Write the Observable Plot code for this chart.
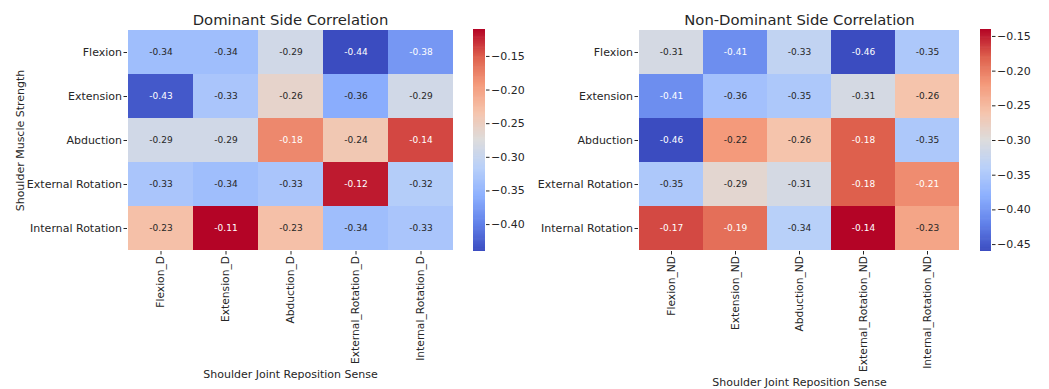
<!DOCTYPE html>
<html><head><meta charset="utf-8">
<script src="https://cdn.jsdelivr.net/npm/d3@7"></script>
<script src="https://cdn.jsdelivr.net/npm/@observablehq/plot@0.6"></script>
<style>
body{margin:0;background:#fff;}
#chart{position:relative;width:1049px;height:389px;background:#fff;font-family:"DejaVu Sans",sans-serif;}
#chart svg{position:absolute;max-width:none;}
</style></head><body><div id="chart"></div>
<script>
const rows = ["Flexion", "Extension", "Abduction", "External Rotation", "Internal Rotation"];
const colsD = ["Flexion_D", "Extension_D", "Abduction_D", "External_Rotation_D", "Internal_Rotation_D"];
const colsND = ["Flexion_ND", "Extension_ND", "Abduction_ND", "External_Rotation_ND", "Internal_Rotation_ND"];
const valuesD = [
  [-0.34, -0.34, -0.29, -0.44, -0.38],
  [-0.43, -0.33, -0.26, -0.36, -0.29],
  [-0.29, -0.29, -0.18, -0.24, -0.14],
  [-0.33, -0.34, -0.33, -0.12, -0.32],
  [-0.23, -0.11, -0.23, -0.34, -0.33]
];
const valuesND = [
  [-0.31, -0.41, -0.33, -0.46, -0.35],
  [-0.41, -0.36, -0.35, -0.31, -0.26],
  [-0.46, -0.22, -0.26, -0.18, -0.35],
  [-0.35, -0.29, -0.31, -0.18, -0.21],
  [-0.17, -0.19, -0.34, -0.14, -0.23]
];
const ticksD = [-0.40, -0.35, -0.30, -0.25, -0.20, -0.15];
const ticksND = [-0.45, -0.40, -0.35, -0.30, -0.25, -0.20, -0.15];
const titleD = "Dominant Side Correlation";
const titleND = "Non-Dominant Side Correlation";
const yTitle = "Shoulder Muscle Strength";
const xTitle = "Shoulder Joint Reposition Sense";

const coolwarm = ["#3b4cc0", "#6282ea", "#8db0fe", "#b8d0f9", "#dddcdc", "#f5c4ac", "#f49a7b", "#de604d", "#b40426"];
const interp = d3.piecewise(d3.interpolateRgb, coolwarm);
const TXT = "#262626";
const FONT = "DejaVu Sans, sans-serif";

function lum(c) {
  const o = d3.rgb(c);
  const f = v => { v /= 255; return v <= 0.03928 ? v / 12.92 : Math.pow((v + 0.055) / 1.055, 2.4); };
  return 0.2126 * f(o.r) + 0.7152 * f(o.g) + 0.0722 * f(o.b);
}

const container = document.getElementById("chart");
const H = 389, MT = 29, MB = 138;

function heatmap(cols, values, title, left, width, ml, mr, xTitleDy, showY) {
  const data = rows.flatMap((r, i) => cols.map((c, j) => ({row: r, col: c, value: values[i][j]})));
  const flat = values.flat();
  const lo = d3.min(flat), hi = d3.max(flat);
  const colorOf = v => interp((v - lo) / (hi - lo));
  const marks = [
    Plot.cell(data, {x: "col", y: "row", fill: "value", inset: 0}),
    Plot.text(data, {x: "col", y: "row", text: d => d.value.toFixed(2), fontSize: 9,
      fill: d => lum(colorOf(d.value)) > 0.408 ? TXT : "white"}),
    Plot.axisX({tickRotate: -90, tickSize: 3.5, tickPadding: 1, fontSize: 10.7, label: null, stroke: TXT, fill: TXT}),
    Plot.axisY({tickSize: 3.5, tickPadding: 2, fontSize: 11, label: null, stroke: TXT, fill: TXT}),
    Plot.text([title], {frameAnchor: "top", lineAnchor: "middle", dy: -9, fontSize: 14.8, fill: TXT}),
    Plot.text([xTitle], {frameAnchor: "bottom", lineAnchor: "middle", dy: xTitleDy, fontSize: 11, fill: TXT})
  ];
  if (showY) marks.push(Plot.text([yTitle], {frameAnchor: "left", lineAnchor: "middle", dx: -107, rotate: -90, textAnchor: "middle", fontSize: 11, fill: TXT}));
  const svg = Plot.plot({
    width, height: H, marginTop: MT, marginBottom: MB, marginLeft: ml, marginRight: mr,
    x: {domain: cols, padding: 0, axis: null},
    y: {domain: rows, padding: 0, axis: null},
    color: {type: "linear", domain: [lo, hi], interpolate: interp},
    style: {fontFamily: FONT, color: TXT, background: "none", overflow: "visible"},
    marks
  });
  svg.style.left = left + "px"; svg.style.top = "0px";
  container.appendChild(svg);
  return [lo, hi];
}

function colorbar([lo, hi], ticks, left, barW, width) {
  const n = 200, step = (hi - lo) / n;
  const svg = Plot.plot({
    width, height: H, marginTop: MT, marginBottom: MB, marginLeft: 0, marginRight: width - barW,
    x: {domain: [0, 1], axis: null},
    y: {domain: [lo, hi], axis: null},
    color: {type: "linear", domain: [lo, hi], interpolate: interp},
    style: {fontFamily: FONT, color: TXT, background: "none", overflow: "visible"},
    marks: [
      Plot.rect(d3.range(n), {x1: 0, x2: 1, y1: i => lo + i * step, y2: i => lo + Math.min(n, i + 1.6) * step,
        fill: i => lo + (i + 0.5) * step, inset: 0}),
      Plot.axisY({anchor: "right", ticks, tickFormat: d3.format(".2f"), tickSize: 3.5, tickPadding: 2,
        fontSize: 11, label: null, stroke: TXT, fill: TXT})
    ]
  });
  svg.style.left = left + "px"; svg.style.top = "0px";
  container.appendChild(svg);
}

const extD = heatmap(colsD, valuesD, titleD, 0, 470, 127, 17, 122.5, true);
colorbar(extD, ticksD, 473, 12, 60);
const extND = heatmap(colsND, valuesND, titleND, 520, 450, 118, 10, 131, false);
colorbar(extND, ticksND, 980, 11, 69);
</script></body></html>
